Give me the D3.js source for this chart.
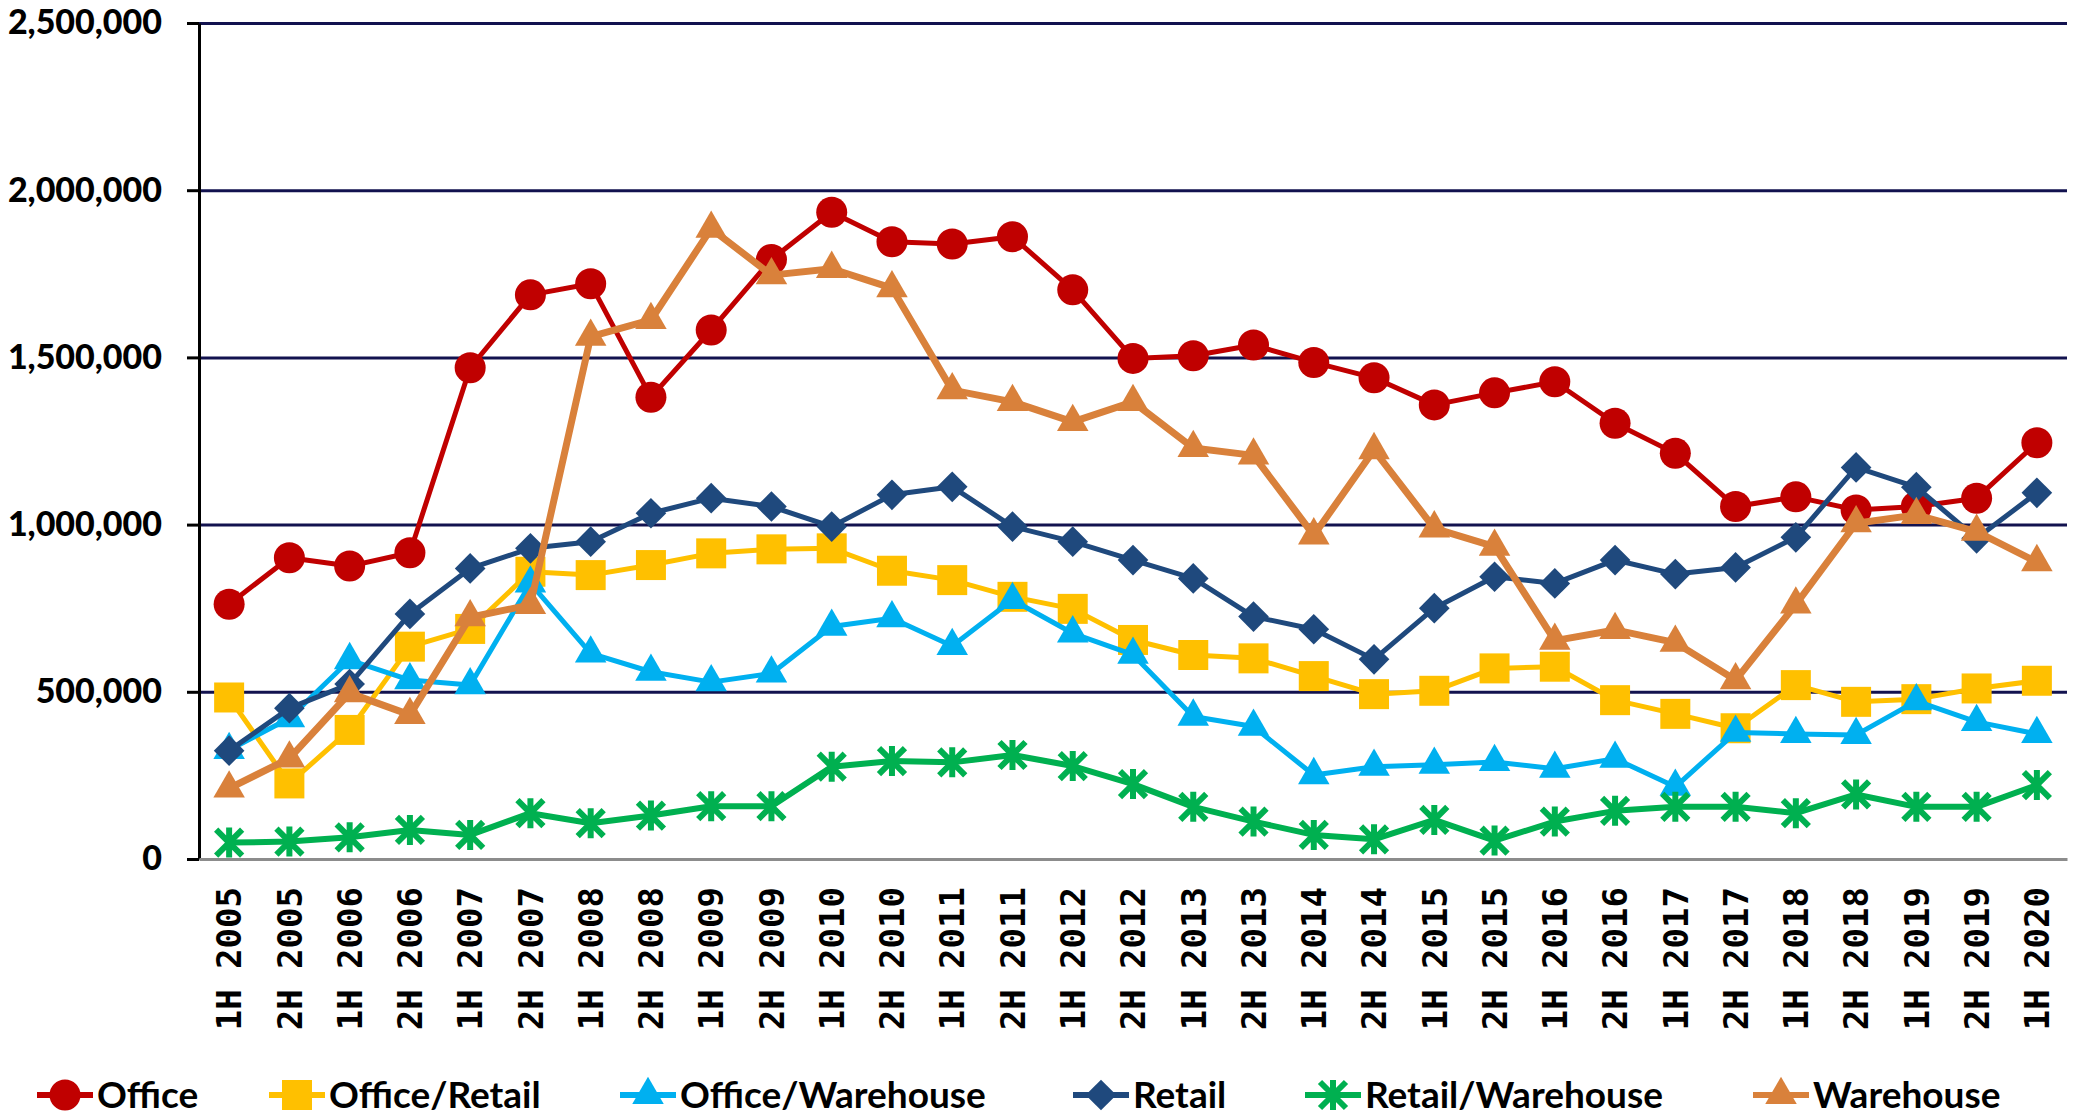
<!DOCTYPE html>
<html>
<head>
<meta charset="utf-8">
<script src="https://cdnjs.cloudflare.com/ajax/libs/d3/7.8.5/d3.min.js"></script>
<style>
  body { margin: 0; background: #fff; }
  svg { display: block; }
</style>
</head>
<body>
<script>
// Chart size
const svgWidth = 2080;
const svgHeight = 1119;

const margin = { top: 23, right: 13, bottom: 260, left: 199 };
const chartWidth = svgWidth - margin.left - margin.right;
const chartHeight = svgHeight - margin.top - margin.bottom;

// Data
const categories = [
  "1H 2005", "2H 2005", "1H 2006", "2H 2006", "1H 2007", "2H 2007", "1H 2008", "2H 2008",
  "1H 2009", "2H 2009", "1H 2010", "2H 2010", "1H 2011", "2H 2011", "1H 2012", "2H 2012",
  "1H 2013", "2H 2013", "1H 2014", "2H 2014", "1H 2015", "2H 2015", "1H 2016", "2H 2016",
  "1H 2017", "2H 2017", "1H 2018", "2H 2018", "1H 2019", "2H 2019", "1H 2020"
];

const office = [762000, 901000, 876000, 916000, 1469000, 1687000, 1720000, 1381000,
  1582000, 1793000, 1934000, 1846000, 1839000, 1861000, 1702000, 1497000,
  1505000, 1537000, 1485000, 1439000, 1358000, 1394000, 1427000, 1303000,
  1213000, 1054000, 1083000, 1044000, 1054000, 1079000, 1245000];

const officeRetail = [483000, 226000, 386000, 635000, 688000, 859000, 849000, 879000,
  914000, 926000, 929000, 862000, 834000, 784000, 748000, 655000,
  610000, 600000, 547000, 493000, 503000, 570000, 575000, 475000,
  434000, 391000, 520000, 470000, 478000, 510000, 533000];

const officeWarehouse = [326000, 421000, 595000, 535000, 520000, 824000, 615000, 560000,
  529000, 555000, 695000, 720000, 637000, 775000, 675000, 611000,
  426000, 396000, 251000, 276000, 282000, 290000, 270000, 300000,
  216000, 378000, 374000, 371000, 472000, 410000, 374000];

const retail = [324000, 451000, 523000, 733000, 869000, 929000, 949000, 1034000,
  1079000, 1054000, 994000, 1089000, 1113000, 994000, 949000, 894000,
  839000, 725000, 687000, 597000, 750000, 844000, 824000, 894000,
  852000, 872000, 962000, 1171000, 1112000, 959000, 1095000];

const retailWarehouse = [49000, 52000, 65000, 87000, 72000, 137000, 107000, 130000,
  158000, 158000, 276000, 293000, 289000, 311000, 278000, 224000,
  156000, 112000, 72000, 59000, 117000, 55000, 112000, 144000,
  156000, 156000, 137000, 193000, 156000, 156000, 221000];

const warehouse = [211000, 301000, 496000, 431000, 723000, 760000, 1562000, 1612000,
  1885000, 1746000, 1765000, 1707000, 1402000, 1367000, 1307000, 1367000,
  1229000, 1207000, 968000, 1223000, 989000, 934000, 653000, 685000,
  647000, 535000, 761000, 1004000, 1029000, 979000, 888000];

const seriesNames = ["Office", "Office/Retail", "Office/Warehouse", "Retail", "Retail/Warehouse", "Warehouse"];
const yTicks = [0, 500000, 1000000, 1500000, 2000000, 2500000];

// Styles per series
const series = [
  { name: seriesNames[0], values: office, color: "#C00000", marker: "circle", width: 5 },
  { name: seriesNames[1], values: officeRetail, color: "#FFC000", marker: "square", width: 5 },
  { name: seriesNames[2], values: officeWarehouse, color: "#00B0F0", marker: "triangle", width: 5 },
  { name: seriesNames[3], values: retail, color: "#1F497D", marker: "diamond", width: 5 },
  { name: seriesNames[4], values: retailWarehouse, color: "#00B050", marker: "star", width: 6 },
  { name: seriesNames[5], values: warehouse, color: "#D9813B", marker: "triangle", width: 7 }
];

const svg = d3.select("body")
  .append("svg")
  .attr("width", svgWidth)
  .attr("height", svgHeight);

svg.append("rect").attr("width", svgWidth).attr("height", svgHeight).attr("fill", "#fff");

const chartGroup = svg.append("g")
  .attr("transform", `translate(${margin.left}, ${margin.top})`);

// Scales
const x = d3.scaleBand().domain(categories).range([0, chartWidth]);
const y = d3.scaleLinear().domain([0, 2500000]).range([chartHeight, 0]);
const cx = c => x(c) + x.bandwidth() / 2;

// Gridlines
chartGroup.append("g")
  .call(d3.axisLeft(y).tickValues(yTicks.slice(1)).tickSize(-chartWidth).tickFormat(""))
  .call(g => g.select(".domain").remove())
  .call(g => g.selectAll("line").attr("stroke", "#12124f").attr("stroke-width", 3));

// Y axis
const yAxis = chartGroup.append("g")
  .call(d3.axisLeft(y).tickValues(yTicks).tickSize(12).tickSizeOuter(0).tickPadding(25)
    .tickFormat(d3.format(",")));
yAxis.select(".domain").attr("stroke", "#000").attr("stroke-width", 3);
yAxis.selectAll(".tick line").attr("stroke", "#000").attr("stroke-width", 3);
yAxis.selectAll("text")
  .attr("fill", "#000")
  .style("font-family", "Lato, 'Open Sans', sans-serif")
  .style("font-weight", "900")
  .style("font-size", "34px");

// X axis (zero line + rotated labels)
const xAxis = chartGroup.append("g")
  .attr("transform", `translate(0, ${chartHeight})`)
  .call(d3.axisBottom(x).tickSize(0).tickSizeOuter(0));
xAxis.select(".domain").attr("stroke", "#8c8c8c").attr("stroke-width", 3);
xAxis.selectAll("text")
  .attr("fill", "#000")
  .attr("transform", "rotate(-90)")
  .attr("text-anchor", "end")
  .attr("x", -28)
  .attr("y", 0)
  .attr("dy", "0.36em")
  .style("font-family", "'DejaVu Sans Mono', 'Liberation Mono', monospace")
  .style("font-weight", "bold")
  .style("font-size", "34px");

// Markers
function markerPath(type) {
  if (type === "circle") return d3.symbol(d3.symbolCircle, 755)();
  if (type === "square") return d3.symbol(d3.symbolSquare, 900)();
  if (type === "diamond") return d3.symbol(d3.symbolSquare, 470)();
  if (type === "triangle") return d3.symbol(d3.symbolTriangle, 430)();
  // asterisk: vertical bar + X
  return "M0,-15L0,15M-13,-13L13,13M-13,13L13,-13";
}

function drawMarker(g, s) {
  const p = g.append("path").attr("d", markerPath(s.marker));
  if (s.marker === "star") {
    p.attr("fill", "none").attr("stroke", s.color).attr("stroke-width", 6);
  } else {
    p.attr("fill", s.color);
    if (s.marker === "diamond") p.attr("transform", "rotate(45)");
  }
}

const line = d3.line()
  .x((d, i) => cx(categories[i]))
  .y(d => y(d));

series.forEach(s => {
  const g = chartGroup.append("g");
  g.append("path")
    .datum(s.values)
    .attr("fill", "none")
    .attr("stroke", s.color)
    .attr("stroke-width", s.width)
    .attr("stroke-linejoin", "round")
    .attr("d", line);

  g.selectAll(".pt")
    .data(s.values)
    .enter()
    .append("g")
    .attr("transform", (d, i) => `translate(${cx(categories[i])}, ${y(d)})`)
    .each(function () { drawMarker(d3.select(this), s); });
});

// Legend
const legendX = [37, 269, 620, 1073, 1305, 1753];
const legend = svg.append("g").attr("transform", "translate(0, 1095)");
series.forEach((s, i) => {
  const g = legend.append("g").attr("transform", `translate(${legendX[i]}, 0)`);
  g.append("line")
    .attr("x1", 0).attr("x2", 56)
    .attr("stroke", s.color).attr("stroke-width", 6);
  const m = g.append("g").attr("transform", "translate(28, 0)");
  drawMarker(m, s);
  g.append("text")
    .attr("x", 60)
    .attr("dy", "0.34em")
    .text(s.name)
    .style("font-family", "Lato, 'Open Sans', sans-serif")
    .style("font-weight", "bold")
    .style("font-size", "37px");
});
</script>
</body>
</html>
